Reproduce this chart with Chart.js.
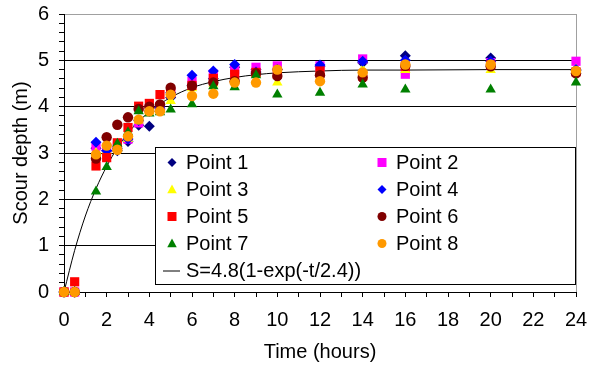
<!DOCTYPE html>
<html>
<head>
<meta charset="utf-8">
<script src="https://cdn.jsdelivr.net/npm/chart.js@4/dist/chart.umd.min.js"></script>
<style>
  html, body { margin: 0; padding: 0; background: #ffffff; }
  #wrap { width: 596px; height: 367px; position: relative; }
</style>
</head>
<body>
<div id="wrap"><canvas id="c" width="596" height="367"></canvas></div>
<script>
// ---- data ----
const times = [0, 0.5, 1.5, 2, 2.5, 3, 3.5, 4, 4.5, 5, 6, 7, 8, 9, 10, 12, 14, 16, 20, 24];
const point1 = [0, 0, 3.10, 3.05, 3.05, 3.25, 3.60, 3.58, 3.95, 4.20, 4.45, 4.60, 4.85, 4.80, 4.80, 4.87, 4.95, 5.10, 5.05, 4.78];
const point2 = [0, 0, 3.15, 3.10, 3.15, 3.30, 3.65, 3.95, 4.00, 4.30, 4.55, 4.70, 4.80, 4.85, 4.88, 4.88, 5.03, 4.70, 4.95, 4.98];
const point3 = [0, 0, 3.00, 3.05, 3.10, 3.30, 3.70, 3.90, 3.95, 4.12, 4.40, 4.50, 4.60, 4.70, 4.52, 4.75, 4.80, 4.79, 4.79, 4.80];
const point4 = [0, 0, 3.23, 3.05, 3.10, 3.30, 3.70, 3.90, 4.00, 4.30, 4.68, 4.77, 4.91, 4.75, 4.80, 4.90, 4.98, 5.00, 4.98, 4.80];
const point5 = [0, 0.22, 2.72, 2.90, 3.22, 3.55, 4.01, 4.07, 4.26, 4.31, 4.46, 4.61, 4.70, 4.74, 4.70, 4.77, 4.66, 4.87, 4.90, 4.75];
const point6 = [0, 0, 2.88, 3.34, 3.61, 3.77, 3.95, 4.00, 4.05, 4.41, 4.45, 4.52, 4.55, 4.72, 4.66, 4.68, 4.63, 4.88, 4.87, 4.72];
const point7 = [0, 0, 2.17, 2.70, 3.20, 3.45, 3.90, 3.85, 3.88, 3.94, 4.05, 4.44, 4.42, 4.68, 4.26, 4.30, 4.48, 4.37, 4.37, 4.52];
const point8 = [0, 0, 2.97, 3.16, 3.07, 3.36, 3.72, 3.90, 3.90, 4.26, 4.23, 4.28, 4.52, 4.52, 4.80, 4.55, 4.74, 4.91, 4.91, 4.77];
const curveTimes  = [0, 0.5, 1, 1.5, 2, 2.5, 3, 3.5, 4, 5, 6, 7, 8, 9, 10, 12, 14, 16, 20, 24];
const curveValues = [0, 0.90, 1.64, 2.23, 2.71, 3.11, 3.43, 3.68, 3.89, 4.20, 4.41, 4.54, 4.63, 4.69, 4.73, 4.77, 4.79, 4.79, 4.80, 4.80];
const seriesNames = ['Point 1', 'Point 2', 'Point 3', 'Point 4', 'Point 5', 'Point 6', 'Point 7', 'Point 8'];
const curveName = 'S=4.8(1-exp(-t/2.4))';
const xTickLabels = ['0', '2', '4', '6', '8', '10', '12', '14', '16', '18', '20', '22', '24'];
const yTickLabels = ['0', '1', '2', '3', '4', '5', '6'];

// ---- styles ----
const seriesValues = [point1, point2, point3, point4, point5, point6, point7, point8];
const seriesColors = ['#000080', '#FF00FF', '#FFFF00', '#0000FF', '#FF0000', '#800000', '#008000', '#FF9900'];
const seriesShapes = ['rectRot', 'rect', 'triangle', 'rectRot', 'rect', 'circle', 'triangle', 'circle'];
const seriesRadius = { rectRot: 5.5, rect: 6.5, triangle: 6, circle: 5.2 };

const FONT = '"Liberation Sans", Arial, sans-serif';
Chart.defaults.font.family = FONT;
Chart.defaults.font.size = 20;
Chart.defaults.color = '#000000';

const datasets = seriesValues.map((vals, i) => ({
  type: 'scatter',
  label: seriesNames[i],
  data: times.map((t, k) => ({ x: t, y: vals[k] })),
  pointStyle: seriesShapes[i],
  pointRadius: seriesRadius[seriesShapes[i]],
  pointHoverRadius: seriesRadius[seriesShapes[i]],
  pointBackgroundColor: seriesColors[i],
  pointBorderColor: seriesColors[i],
  pointBorderWidth: 0,
  showLine: false,
  clip: false,
  order: 8 - i
}));
datasets.push({
  type: 'line',
  label: curveName,
  data: curveTimes.map((t, k) => ({ x: t, y: curveValues[k] })),
  borderColor: '#000000',
  borderWidth: 1,
  pointRadius: 0,
  tension: 0.3,
  cubicInterpolationMode: 'monotone',
  fill: false,
  clip: false,
  order: 20
});

function drawMarker(ctx, shape, x, y, r, color) {
  ctx.save();
  ctx.fillStyle = color;
  ctx.beginPath();
  if (shape === 'circle') {
    ctx.arc(x, y, r, 0, Math.PI * 2);
  } else if (shape === 'rect') {
    ctx.rect(x - r, y - r, 2 * r, 2 * r);
  } else if (shape === 'rectRot') {
    ctx.moveTo(x, y - r); ctx.lineTo(x + r, y); ctx.lineTo(x, y + r); ctx.lineTo(x - r, y);
  } else if (shape === 'triangle') {
    ctx.moveTo(x, y - r); ctx.lineTo(x + r * 0.95, y + r * 0.75); ctx.lineTo(x - r * 0.95, y + r * 0.75);
  }
  ctx.closePath();
  ctx.fill();
  ctx.restore();
}

const frameAndLegend = {
  id: 'frameAndLegend',
  beforeDatasetsDraw(chart) {
    const { ctx, chartArea } = chart;
    ctx.save();
    ctx.strokeStyle = '#a0a0a0';
    ctx.lineWidth = 1;
    ctx.beginPath();
    ctx.moveTo(chartArea.right + 0.5, chartArea.top);
    ctx.lineTo(chartArea.right + 0.5, chartArea.bottom);
    ctx.stroke();
    ctx.restore();
  },
  afterDatasetsDraw(chart) {
    const { ctx, chartArea } = chart;
    const bx = 155.5, by = 147.5, bx2 = chartArea.right - 0.5, by2 = 284.5;
    ctx.save();
    ctx.fillStyle = '#ffffff';
    ctx.fillRect(bx, by, bx2 - bx, by2 - by);
    ctx.strokeStyle = '#000000';
    ctx.lineWidth = 1;
    ctx.strokeRect(bx, by, bx2 - bx, by2 - by);
    ctx.font = '20px ' + FONT;
    ctx.fillStyle = '#000000';
    ctx.textBaseline = 'middle';
    ctx.textAlign = 'left';
    const rowY0 = 162.5, rowDy = 27;
    const legR = { rectRot: 4.5, rect: 4.5, triangle: 5, circle: 4.5 };
    for (let i = 0; i < seriesNames.length; i++) {
      const col = i % 2, row = Math.floor(i / 2);
      const mx = col === 0 ? 172 : 382;
      const tx = col === 0 ? 186 : 396;
      const y = rowY0 + row * rowDy;
      drawMarker(ctx, seriesShapes[i], mx, y, legR[seriesShapes[i]], seriesColors[i]);
      ctx.fillStyle = '#000000';
      ctx.fillText(seriesNames[i], tx, y + 1);
    }
    const ly = rowY0 + 4 * rowDy;
    ctx.beginPath();
    ctx.moveTo(163, ly + 0.5); ctx.lineTo(180, ly + 0.5);
    ctx.strokeStyle = '#000000';
    ctx.stroke();
    ctx.fillText(curveName, 186, ly + 1);
    ctx.restore();
  }
};

new Chart(document.getElementById('c'), {
  type: 'scatter',
  data: { datasets },
  options: {
    responsive: false,
    animation: false,
    events: [],
    layout: { padding: { top: 14, right: 20, left: 0, bottom: 0 } },
    plugins: { legend: { display: false }, tooltip: { enabled: false } },
    scales: {
      x: {
        type: 'linear', min: 0, max: 24,
        afterFit(s) { s.height = 75; s.paddingLeft = 0; s.paddingRight = 0; },
        ticks: {
          stepSize: 1, autoSkip: false, maxRotation: 0, padding: 11,
          callback(v) { return (Math.round(v) === v && v % 2 === 0) ? xTickLabels[v / 2] : ''; }
        },
        grid: { drawOnChartArea: false, tickLength: 5, tickColor: '#000000' },
        border: { color: '#000000', width: 1 },
        title: { display: true, text: 'Time (hours)', padding: { top: 0, bottom: 3 } }
      },
      y: {
        type: 'linear', min: 0, max: 6,
        afterFit(s) { s.width = 64; s.paddingTop = 0; s.paddingBottom = 0; },
        ticks: {
          stepSize: 0.2, autoSkip: false, padding: 10,
          callback(v) {
            const r = Math.round(v);
            return Math.abs(v - r) < 1e-6 ? yTickLabels[r] : '';
          }
        },
        grid: {
          tickLength: 5,
          tickColor: '#000000',
          color(ctx) {
            const v = ctx.tick ? ctx.tick.value : 0;
            const r = Math.round(v);
            if (Math.abs(v - r) > 1e-6) return 'rgba(0,0,0,0)';
            if (r === 6) return '#a0a0a0';
            return '#000000';
          }
        },
        border: { color: '#000000', width: 1 },
        title: { display: true, text: 'Scour depth (m)', padding: { top: 9, bottom: 0 } }
      }
    }
  },
  plugins: [frameAndLegend]
});
</script>
</body>
</html>
